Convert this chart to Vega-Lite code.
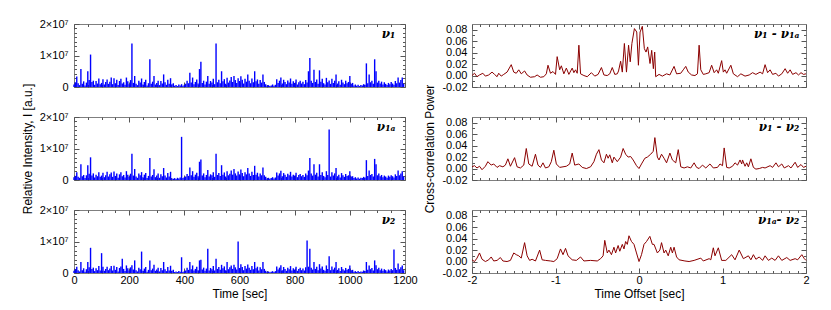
{
"$schema": "https://vega.github.io/schema/vega-lite/v6.json",
"background": "white",
"padding": {"left": 20, "top": 17, "right": 10, "bottom": 4},
"config": {
 "view": {"stroke": "#7f7f7f", "strokeWidth": 1},
 "axis": {"domain": false, "grid": false, "tickColor": "#555555", "tickWidth": 1, "labelFont": "Liberation Sans", "labelFontSize": 11, "labelColor": "#000000", "titleFont": "Liberation Sans", "titleFontSize": 12, "titleFontWeight": "normal", "titleColor": "#000000", "labelPadding": 6, "labelFlush": false, "labelOverlap": false},
 "axisLeft": {"labelPadding": 11},
 "rule": {"color": "#0000ff", "strokeWidth": 1.4},
 "text": {"font": "DejaVu Serif", "fontStyle": "italic", "fontWeight": "bold", "fontSize": 12, "color": "#000000", "align": "right", "baseline": "top"}
},
"datasets": {
"p1": [{"t":0,"v":0.8e6},{"t":5,"v":1.5e6},{"t":10,"v":3.3e6},{"t":15,"v":1.2e6},{"t":20,"v":0.6e6},{"t":25,"v":5.7e6},{"t":30,"v":1.0e6},{"t":35,"v":1.8e6},{"t":40,"v":0.5e6},{"t":45,"v":1.4e6},{"t":50,"v":5.0e6},{"t":55,"v":2.2e6},{"t":60,"v":10.3e6},{"t":65,"v":1.6e6},{"t":70,"v":2.0e6},{"t":75,"v":0.7e6},{"t":80,"v":1.9e6},{"t":85,"v":1.1e6},{"t":90,"v":2.7e6},{"t":95,"v":0.9e6},{"t":100,"v":1.3e6},{"t":105,"v":2.5e6},{"t":110,"v":0.8e6},{"t":115,"v":1.6e6},{"t":120,"v":2.4e6},{"t":125,"v":1.0e6},{"t":130,"v":1.7e6},{"t":135,"v":3.0e6},{"t":140,"v":0.9e6},{"t":145,"v":2.8e6},{"t":150,"v":1.2e6},{"t":155,"v":2.3e6},{"t":160,"v":0.6e6},{"t":165,"v":1.9e6},{"t":170,"v":2.6e6},{"t":175,"v":1.1e6},{"t":180,"v":1.5e6},{"t":185,"v":0.7e6},{"t":190,"v":3.0e6},{"t":195,"v":1.8e6},{"t":200,"v":0.9e6},{"t":205,"v":2.2e6},{"t":210,"v":13.8e6},{"t":215,"v":1.3e6},{"t":220,"v":3.5e6},{"t":225,"v":1.0e6},{"t":230,"v":0.6e6},{"t":235,"v":2.0e6},{"t":240,"v":1.4e6},{"t":245,"v":2.7e6},{"t":250,"v":0.8e6},{"t":255,"v":1.6e6},{"t":260,"v":2.3e6},{"t":265,"v":0.5e6},{"t":270,"v":1.2e6},{"t":275,"v":8.8e6},{"t":280,"v":1.0e6},{"t":285,"v":1.7e6},{"t":290,"v":3.5e6},{"t":295,"v":0.8e6},{"t":300,"v":1.3e6},{"t":305,"v":2.0e6},{"t":310,"v":0.6e6},{"t":315,"v":1.9e6},{"t":320,"v":1.1e6},{"t":325,"v":4.0e6},{"t":330,"v":1.5e6},{"t":335,"v":0.7e6},{"t":340,"v":2.3e6},{"t":345,"v":1.0e6},{"t":350,"v":2.8e6},{"t":355,"v":0.9e6},{"t":360,"v":1.2e6},{"t":365,"v":0.4e6},{"t":370,"v":0.6e6},{"t":375,"v":0.3e6},{"t":380,"v":0.8e6},{"t":385,"v":0.5e6},{"t":390,"v":0.9e6},{"t":395,"v":0.4e6},{"t":400,"v":0.7e6},{"t":405,"v":1.0e6},{"t":410,"v":2.0e6},{"t":415,"v":1.2e6},{"t":420,"v":4.5e6},{"t":425,"v":1.4e6},{"t":430,"v":3.0e6},{"t":435,"v":0.9e6},{"t":440,"v":1.6e6},{"t":445,"v":2.4e6},{"t":450,"v":1.1e6},{"t":455,"v":5.7e6},{"t":460,"v":8.0e6},{"t":465,"v":1.3e6},{"t":470,"v":2.0e6},{"t":475,"v":0.8e6},{"t":480,"v":1.7e6},{"t":485,"v":3.5e6},{"t":490,"v":1.0e6},{"t":495,"v":1.9e6},{"t":500,"v":1.4e6},{"t":505,"v":2.6e6},{"t":510,"v":0.9e6},{"t":515,"v":13.8e6},{"t":520,"v":1.5e6},{"t":525,"v":2.3e6},{"t":530,"v":1.2e6},{"t":535,"v":5.0e6},{"t":540,"v":1.8e6},{"t":545,"v":2.5e6},{"t":550,"v":1.0e6},{"t":555,"v":2.9e6},{"t":560,"v":1.4e6},{"t":565,"v":2.1e6},{"t":570,"v":3.2e6},{"t":575,"v":1.6e6},{"t":580,"v":3.5e6},{"t":585,"v":2.2e6},{"t":590,"v":1.3e6},{"t":595,"v":2.8e6},{"t":600,"v":1.9e6},{"t":605,"v":3.4e6},{"t":610,"v":2.3e6},{"t":615,"v":1.1e6},{"t":620,"v":2.6e6},{"t":625,"v":1.7e6},{"t":630,"v":4.0e6},{"t":635,"v":2.0e6},{"t":640,"v":1.2e6},{"t":645,"v":2.7e6},{"t":650,"v":1.5e6},{"t":655,"v":5.0e6},{"t":660,"v":1.8e6},{"t":665,"v":2.4e6},{"t":670,"v":1.0e6},{"t":675,"v":2.2e6},{"t":680,"v":1.4e6},{"t":685,"v":4.0e6},{"t":690,"v":1.6e6},{"t":695,"v":0.9e6},{"t":700,"v":0.4e6},{"t":705,"v":0.6e6},{"t":710,"v":0.3e6},{"t":715,"v":0.5e6},{"t":720,"v":0.8e6},{"t":725,"v":0.4e6},{"t":730,"v":0.7e6},{"t":735,"v":2.5e6},{"t":740,"v":1.3e6},{"t":745,"v":2.0e6},{"t":750,"v":3.0e6},{"t":755,"v":1.1e6},{"t":760,"v":2.3e6},{"t":765,"v":1.6e6},{"t":770,"v":0.9e6},{"t":775,"v":2.1e6},{"t":780,"v":1.4e6},{"t":785,"v":2.7e6},{"t":790,"v":1.0e6},{"t":795,"v":1.8e6},{"t":800,"v":1.3e6},{"t":805,"v":2.4e6},{"t":810,"v":0.8e6},{"t":815,"v":1.5e6},{"t":820,"v":2.0e6},{"t":825,"v":1.1e6},{"t":830,"v":1.7e6},{"t":835,"v":0.9e6},{"t":840,"v":2.2e6},{"t":845,"v":1.4e6},{"t":850,"v":5.0e6},{"t":855,"v":9.2e6},{"t":860,"v":2.0e6},{"t":865,"v":1.3e6},{"t":870,"v":5.5e6},{"t":875,"v":1.6e6},{"t":880,"v":2.4e6},{"t":885,"v":1.0e6},{"t":890,"v":5.3e6},{"t":895,"v":1.7e6},{"t":900,"v":2.6e6},{"t":905,"v":1.2e6},{"t":910,"v":0.8e6},{"t":915,"v":2.9e6},{"t":920,"v":1.5e6},{"t":925,"v":2.1e6},{"t":930,"v":1.0e6},{"t":935,"v":2.6e6},{"t":940,"v":1.3e6},{"t":945,"v":2.0e6},{"t":950,"v":4.0e6},{"t":955,"v":1.1e6},{"t":960,"v":1.8e6},{"t":965,"v":0.7e6},{"t":970,"v":2.3e6},{"t":975,"v":1.4e6},{"t":980,"v":0.9e6},{"t":985,"v":2.0e6},{"t":990,"v":1.2e6},{"t":995,"v":1.6e6},{"t":1000,"v":3.5e6},{"t":1005,"v":1.0e6},{"t":1010,"v":1.3e6},{"t":1015,"v":0.5e6},{"t":1020,"v":0.8e6},{"t":1025,"v":0.4e6},{"t":1030,"v":0.7e6},{"t":1035,"v":0.3e6},{"t":1040,"v":0.6e6},{"t":1045,"v":0.5e6},{"t":1050,"v":0.9e6},{"t":1055,"v":0.7e6},{"t":1060,"v":7.5e6},{"t":1065,"v":1.2e6},{"t":1070,"v":4.0e6},{"t":1075,"v":1.5e6},{"t":1080,"v":2.0e6},{"t":1085,"v":1.0e6},{"t":1090,"v":8.8e6},{"t":1095,"v":5.0e6},{"t":1100,"v":1.4e6},{"t":1105,"v":2.0e6},{"t":1110,"v":1.1e6},{"t":1115,"v":1.7e6},{"t":1120,"v":0.8e6},{"t":1125,"v":1.5e6},{"t":1130,"v":1.0e6},{"t":1135,"v":0.6e6},{"t":1140,"v":1.3e6},{"t":1145,"v":0.9e6},{"t":1150,"v":1.6e6},{"t":1155,"v":1.1e6},{"t":1160,"v":0.7e6},{"t":1165,"v":1.9e6},{"t":1170,"v":1.2e6},{"t":1175,"v":3.0e6},{"t":1180,"v":1.4e6},{"t":1185,"v":2.2e6},{"t":1190,"v":3.0e6},{"t":1195,"v":1.0e6}],
"p2": [{"t":0,"v":0.9e6},{"t":5,"v":1.3e6},{"t":10,"v":2.5e6},{"t":15,"v":1.0e6},{"t":20,"v":0.7e6},{"t":25,"v":5.0e6},{"t":30,"v":1.2e6},{"t":35,"v":1.6e6},{"t":40,"v":0.6e6},{"t":45,"v":1.5e6},{"t":50,"v":4.7e6},{"t":55,"v":2.0e6},{"t":60,"v":7.2e6},{"t":65,"v":1.4e6},{"t":70,"v":2.1e6},{"t":75,"v":0.8e6},{"t":80,"v":1.7e6},{"t":85,"v":1.2e6},{"t":90,"v":2.5e6},{"t":95,"v":1.0e6},{"t":100,"v":1.4e6},{"t":105,"v":2.3e6},{"t":110,"v":0.9e6},{"t":115,"v":1.5e6},{"t":120,"v":2.6e6},{"t":125,"v":1.1e6},{"t":130,"v":1.8e6},{"t":135,"v":2.4e6},{"t":140,"v":1.0e6},{"t":145,"v":2.7e6},{"t":150,"v":1.3e6},{"t":155,"v":2.1e6},{"t":160,"v":0.7e6},{"t":165,"v":1.8e6},{"t":170,"v":2.5e6},{"t":175,"v":1.2e6},{"t":180,"v":1.6e6},{"t":185,"v":0.8e6},{"t":190,"v":2.8e6},{"t":195,"v":1.7e6},{"t":200,"v":1.0e6},{"t":205,"v":2.0e6},{"t":210,"v":8.3e6},{"t":215,"v":1.4e6},{"t":220,"v":3.5e6},{"t":225,"v":1.1e6},{"t":230,"v":0.7e6},{"t":235,"v":2.1e6},{"t":240,"v":1.5e6},{"t":245,"v":2.5e6},{"t":250,"v":0.9e6},{"t":255,"v":1.7e6},{"t":260,"v":2.2e6},{"t":265,"v":0.6e6},{"t":270,"v":1.3e6},{"t":275,"v":7.0e6},{"t":280,"v":1.1e6},{"t":285,"v":1.6e6},{"t":290,"v":3.4e6},{"t":295,"v":0.9e6},{"t":300,"v":1.4e6},{"t":305,"v":2.1e6},{"t":310,"v":0.7e6},{"t":315,"v":1.8e6},{"t":320,"v":1.2e6},{"t":325,"v":3.8e6},{"t":330,"v":1.4e6},{"t":335,"v":0.8e6},{"t":340,"v":2.2e6},{"t":345,"v":1.1e6},{"t":350,"v":2.6e6},{"t":355,"v":0.5e6},{"t":360,"v":0.4e6},{"t":365,"v":0.6e6},{"t":370,"v":0.3e6},{"t":375,"v":0.7e6},{"t":380,"v":0.5e6},{"t":385,"v":0.8e6},{"t":390,"v":13.7e6},{"t":395,"v":0.6e6},{"t":400,"v":0.9e6},{"t":405,"v":1.1e6},{"t":410,"v":1.9e6},{"t":415,"v":1.3e6},{"t":420,"v":4.0e6},{"t":425,"v":1.5e6},{"t":430,"v":2.8e6},{"t":435,"v":1.0e6},{"t":440,"v":1.7e6},{"t":445,"v":2.3e6},{"t":450,"v":1.2e6},{"t":455,"v":5.8e6},{"t":460,"v":6.5e6},{"t":465,"v":1.4e6},{"t":470,"v":2.1e6},{"t":475,"v":0.9e6},{"t":480,"v":1.6e6},{"t":485,"v":3.2e6},{"t":490,"v":1.1e6},{"t":495,"v":1.8e6},{"t":500,"v":1.5e6},{"t":505,"v":2.5e6},{"t":510,"v":1.0e6},{"t":515,"v":8.3e6},{"t":520,"v":1.6e6},{"t":525,"v":2.2e6},{"t":530,"v":1.3e6},{"t":535,"v":4.7e6},{"t":540,"v":1.7e6},{"t":545,"v":2.4e6},{"t":550,"v":1.1e6},{"t":555,"v":2.8e6},{"t":560,"v":1.5e6},{"t":565,"v":2.0e6},{"t":570,"v":3.0e6},{"t":575,"v":1.7e6},{"t":580,"v":3.5e6},{"t":585,"v":2.1e6},{"t":590,"v":1.4e6},{"t":595,"v":2.7e6},{"t":600,"v":1.8e6},{"t":605,"v":3.3e6},{"t":610,"v":2.2e6},{"t":615,"v":1.2e6},{"t":620,"v":2.5e6},{"t":625,"v":1.8e6},{"t":630,"v":3.8e6},{"t":635,"v":2.1e6},{"t":640,"v":1.3e6},{"t":645,"v":2.6e6},{"t":650,"v":1.6e6},{"t":655,"v":4.5e6},{"t":660,"v":1.7e6},{"t":665,"v":2.3e6},{"t":670,"v":1.1e6},{"t":675,"v":2.1e6},{"t":680,"v":1.5e6},{"t":685,"v":4.0e6},{"t":690,"v":1.5e6},{"t":695,"v":1.0e6},{"t":700,"v":0.5e6},{"t":705,"v":0.7e6},{"t":710,"v":0.4e6},{"t":715,"v":0.6e6},{"t":720,"v":0.9e6},{"t":725,"v":0.5e6},{"t":730,"v":0.8e6},{"t":735,"v":2.4e6},{"t":740,"v":1.4e6},{"t":745,"v":2.1e6},{"t":750,"v":2.9e6},{"t":755,"v":1.2e6},{"t":760,"v":2.2e6},{"t":765,"v":1.7e6},{"t":770,"v":1.0e6},{"t":775,"v":2.0e6},{"t":780,"v":1.5e6},{"t":785,"v":2.6e6},{"t":790,"v":1.1e6},{"t":795,"v":1.7e6},{"t":800,"v":1.4e6},{"t":805,"v":2.3e6},{"t":810,"v":0.9e6},{"t":815,"v":1.6e6},{"t":820,"v":1.9e6},{"t":825,"v":1.2e6},{"t":830,"v":1.6e6},{"t":835,"v":1.0e6},{"t":840,"v":2.1e6},{"t":845,"v":1.5e6},{"t":850,"v":3.0e6},{"t":855,"v":7.0e6},{"t":860,"v":2.1e6},{"t":865,"v":1.4e6},{"t":870,"v":5.0e6},{"t":875,"v":1.7e6},{"t":880,"v":2.3e6},{"t":885,"v":1.1e6},{"t":890,"v":5.0e6},{"t":895,"v":1.6e6},{"t":900,"v":2.5e6},{"t":905,"v":1.3e6},{"t":910,"v":0.9e6},{"t":915,"v":2.8e6},{"t":920,"v":1.6e6},{"t":925,"v":16.0e6},{"t":930,"v":1.1e6},{"t":935,"v":2.5e6},{"t":940,"v":1.4e6},{"t":945,"v":2.1e6},{"t":950,"v":3.8e6},{"t":955,"v":1.2e6},{"t":960,"v":1.7e6},{"t":965,"v":0.8e6},{"t":970,"v":2.2e6},{"t":975,"v":1.5e6},{"t":980,"v":1.0e6},{"t":985,"v":1.9e6},{"t":990,"v":1.3e6},{"t":995,"v":1.5e6},{"t":1000,"v":2.8e6},{"t":1005,"v":1.1e6},{"t":1010,"v":1.2e6},{"t":1015,"v":0.6e6},{"t":1020,"v":0.9e6},{"t":1025,"v":0.5e6},{"t":1030,"v":0.8e6},{"t":1035,"v":0.4e6},{"t":1040,"v":0.7e6},{"t":1045,"v":0.6e6},{"t":1050,"v":1.0e6},{"t":1055,"v":0.8e6},{"t":1060,"v":6.3e6},{"t":1065,"v":1.3e6},{"t":1070,"v":3.0e6},{"t":1075,"v":1.6e6},{"t":1080,"v":1.9e6},{"t":1085,"v":1.1e6},{"t":1090,"v":6.7e6},{"t":1095,"v":5.0e6},{"t":1100,"v":1.5e6},{"t":1105,"v":2.1e6},{"t":1110,"v":1.2e6},{"t":1115,"v":1.6e6},{"t":1120,"v":0.9e6},{"t":1125,"v":1.4e6},{"t":1130,"v":1.1e6},{"t":1135,"v":0.7e6},{"t":1140,"v":1.4e6},{"t":1145,"v":1.0e6},{"t":1150,"v":1.5e6},{"t":1155,"v":1.2e6},{"t":1160,"v":0.8e6},{"t":1165,"v":1.8e6},{"t":1170,"v":1.3e6},{"t":1175,"v":3.0e6},{"t":1180,"v":1.5e6},{"t":1185,"v":2.1e6},{"t":1190,"v":2.8e6},{"t":1195,"v":1.1e6}],
"p3": [{"t":0,"v":0.7e6},{"t":5,"v":1.2e6},{"t":10,"v":2.0e6},{"t":15,"v":0.9e6},{"t":20,"v":0.5e6},{"t":25,"v":3.5e6},{"t":30,"v":0.9e6},{"t":35,"v":1.5e6},{"t":40,"v":0.4e6},{"t":45,"v":1.2e6},{"t":50,"v":3.5e6},{"t":55,"v":1.8e6},{"t":60,"v":8.0e6},{"t":65,"v":1.3e6},{"t":70,"v":1.7e6},{"t":75,"v":0.6e6},{"t":80,"v":1.5e6},{"t":85,"v":0.9e6},{"t":90,"v":2.2e6},{"t":95,"v":0.8e6},{"t":100,"v":6.3e6},{"t":105,"v":2.0e6},{"t":110,"v":0.7e6},{"t":115,"v":1.3e6},{"t":120,"v":2.0e6},{"t":125,"v":0.9e6},{"t":130,"v":1.4e6},{"t":135,"v":2.2e6},{"t":140,"v":0.8e6},{"t":145,"v":2.3e6},{"t":150,"v":1.0e6},{"t":155,"v":1.9e6},{"t":160,"v":0.5e6},{"t":165,"v":1.6e6},{"t":170,"v":2.1e6},{"t":175,"v":4.5e6},{"t":180,"v":1.3e6},{"t":185,"v":0.6e6},{"t":190,"v":2.4e6},{"t":195,"v":1.5e6},{"t":200,"v":0.8e6},{"t":205,"v":1.8e6},{"t":210,"v":2.5e6},{"t":215,"v":1.1e6},{"t":220,"v":4.0e6},{"t":225,"v":0.9e6},{"t":230,"v":0.5e6},{"t":235,"v":1.7e6},{"t":240,"v":1.2e6},{"t":245,"v":6.8e6},{"t":250,"v":0.7e6},{"t":255,"v":1.4e6},{"t":260,"v":1.9e6},{"t":265,"v":0.4e6},{"t":270,"v":1.0e6},{"t":275,"v":4.0e6},{"t":280,"v":0.9e6},{"t":285,"v":1.4e6},{"t":290,"v":2.6e6},{"t":295,"v":0.7e6},{"t":300,"v":1.1e6},{"t":305,"v":1.7e6},{"t":310,"v":0.5e6},{"t":315,"v":1.6e6},{"t":320,"v":0.9e6},{"t":325,"v":3.5e6},{"t":330,"v":1.2e6},{"t":335,"v":0.6e6},{"t":340,"v":1.9e6},{"t":345,"v":0.8e6},{"t":350,"v":2.3e6},{"t":355,"v":0.7e6},{"t":360,"v":1.0e6},{"t":365,"v":0.3e6},{"t":370,"v":0.5e6},{"t":375,"v":0.3e6},{"t":380,"v":0.6e6},{"t":385,"v":0.4e6},{"t":390,"v":5.0e6},{"t":395,"v":0.3e6},{"t":400,"v":0.6e6},{"t":405,"v":0.8e6},{"t":410,"v":1.7e6},{"t":415,"v":1.0e6},{"t":420,"v":3.5e6},{"t":425,"v":1.2e6},{"t":430,"v":2.4e6},{"t":435,"v":0.8e6},{"t":440,"v":1.3e6},{"t":445,"v":2.0e6},{"t":450,"v":0.9e6},{"t":455,"v":4.0e6},{"t":460,"v":4.2e6},{"t":465,"v":1.1e6},{"t":470,"v":1.7e6},{"t":475,"v":0.7e6},{"t":480,"v":1.4e6},{"t":485,"v":7.7e6},{"t":490,"v":0.8e6},{"t":495,"v":1.6e6},{"t":500,"v":1.2e6},{"t":505,"v":2.2e6},{"t":510,"v":0.8e6},{"t":515,"v":4.5e6},{"t":520,"v":1.3e6},{"t":525,"v":1.9e6},{"t":530,"v":1.0e6},{"t":535,"v":2.6e6},{"t":540,"v":1.5e6},{"t":545,"v":2.1e6},{"t":550,"v":0.9e6},{"t":555,"v":3.5e6},{"t":560,"v":1.2e6},{"t":565,"v":1.8e6},{"t":570,"v":2.4e6},{"t":575,"v":1.3e6},{"t":580,"v":2.6e6},{"t":585,"v":1.8e6},{"t":590,"v":1.1e6},{"t":595,"v":10.0e6},{"t":600,"v":1.6e6},{"t":605,"v":2.8e6},{"t":610,"v":1.9e6},{"t":615,"v":0.9e6},{"t":620,"v":2.2e6},{"t":625,"v":1.4e6},{"t":630,"v":2.7e6},{"t":635,"v":1.7e6},{"t":640,"v":1.0e6},{"t":645,"v":2.2e6},{"t":650,"v":1.2e6},{"t":655,"v":3.5e6},{"t":660,"v":1.5e6},{"t":665,"v":2.0e6},{"t":670,"v":0.8e6},{"t":675,"v":1.8e6},{"t":680,"v":1.2e6},{"t":685,"v":3.5e6},{"t":690,"v":1.3e6},{"t":695,"v":0.7e6},{"t":700,"v":0.3e6},{"t":705,"v":0.5e6},{"t":710,"v":0.2e6},{"t":715,"v":0.4e6},{"t":720,"v":0.6e6},{"t":725,"v":0.3e6},{"t":730,"v":0.6e6},{"t":735,"v":2.1e6},{"t":740,"v":1.1e6},{"t":745,"v":1.7e6},{"t":750,"v":2.5e6},{"t":755,"v":0.9e6},{"t":760,"v":1.9e6},{"t":765,"v":1.3e6},{"t":770,"v":0.7e6},{"t":775,"v":1.7e6},{"t":780,"v":1.2e6},{"t":785,"v":2.2e6},{"t":790,"v":0.8e6},{"t":795,"v":1.5e6},{"t":800,"v":1.1e6},{"t":805,"v":2.0e6},{"t":810,"v":0.7e6},{"t":815,"v":1.3e6},{"t":820,"v":1.7e6},{"t":825,"v":0.9e6},{"t":830,"v":1.4e6},{"t":835,"v":0.8e6},{"t":840,"v":1.8e6},{"t":845,"v":10.3e6},{"t":850,"v":2.0e6},{"t":855,"v":7.7e6},{"t":860,"v":1.7e6},{"t":865,"v":1.1e6},{"t":870,"v":3.5e6},{"t":875,"v":1.3e6},{"t":880,"v":2.0e6},{"t":885,"v":0.9e6},{"t":890,"v":2.8e6},{"t":895,"v":1.4e6},{"t":900,"v":2.1e6},{"t":905,"v":1.0e6},{"t":910,"v":0.7e6},{"t":915,"v":2.4e6},{"t":920,"v":1.3e6},{"t":925,"v":5.3e6},{"t":930,"v":0.9e6},{"t":935,"v":2.1e6},{"t":940,"v":1.1e6},{"t":945,"v":1.7e6},{"t":950,"v":3.5e6},{"t":955,"v":1.0e6},{"t":960,"v":1.5e6},{"t":965,"v":0.6e6},{"t":970,"v":1.9e6},{"t":975,"v":1.2e6},{"t":980,"v":0.8e6},{"t":985,"v":1.6e6},{"t":990,"v":1.0e6},{"t":995,"v":1.3e6},{"t":1000,"v":2.4e6},{"t":1005,"v":0.9e6},{"t":1010,"v":1.0e6},{"t":1015,"v":0.4e6},{"t":1020,"v":0.6e6},{"t":1025,"v":0.3e6},{"t":1030,"v":0.6e6},{"t":1035,"v":0.3e6},{"t":1040,"v":0.5e6},{"t":1045,"v":0.4e6},{"t":1050,"v":0.8e6},{"t":1055,"v":0.6e6},{"t":1060,"v":3.5e6},{"t":1065,"v":1.0e6},{"t":1070,"v":2.4e6},{"t":1075,"v":1.2e6},{"t":1080,"v":1.6e6},{"t":1085,"v":0.8e6},{"t":1090,"v":4.0e6},{"t":1095,"v":2.5e6},{"t":1100,"v":1.2e6},{"t":1105,"v":1.7e6},{"t":1110,"v":0.9e6},{"t":1115,"v":1.4e6},{"t":1120,"v":0.7e6},{"t":1125,"v":1.2e6},{"t":1130,"v":0.9e6},{"t":1135,"v":0.5e6},{"t":1140,"v":1.1e6},{"t":1145,"v":0.8e6},{"t":1150,"v":1.3e6},{"t":1155,"v":0.9e6},{"t":1160,"v":7.5e6},{"t":1165,"v":1.6e6},{"t":1170,"v":1.0e6},{"t":1175,"v":3.0e6},{"t":1180,"v":1.2e6},{"t":1185,"v":1.8e6},{"t":1190,"v":2.4e6},{"t":1195,"v":0.9e6}],
"r1": [{"o":-2.00,"c":0.000},{"o":-1.97,"c":0.004},{"o":-1.94,"c":-0.002},{"o":-1.91,"c":0.001},{"o":-1.87,"c":0.004},{"o":-1.84,"c":-0.001},{"o":-1.80,"c":0.001},{"o":-1.76,"c":0.006},{"o":-1.73,"c":0.002},{"o":-1.70,"c":-0.002},{"o":-1.68,"c":0.004},{"o":-1.65,"c":-0.001},{"o":-1.62,"c":0.002},{"o":-1.58,"c":0.006},{"o":-1.53,"c":0.019},{"o":-1.50,"c":0.006},{"o":-1.47,"c":0.004},{"o":-1.44,"c":0.010},{"o":-1.41,"c":0.003},{"o":-1.37,"c":0.008},{"o":-1.34,"c":0.001},{"o":-1.30,"c":-0.003},{"o":-1.25,"c":-0.002},{"o":-1.22,"c":0.001},{"o":-1.18,"c":-0.003},{"o":-1.14,"c":-0.002},{"o":-1.11,"c":0.003},{"o":-1.09,"c":0.018},{"o":-1.06,"c":0.004},{"o":-1.03,"c":0.007},{"o":-1.00,"c":0.002},{"o":-0.98,"c":0.033},{"o":-0.95,"c":0.010},{"o":-0.93,"c":0.017},{"o":-0.90,"c":0.003},{"o":-0.87,"c":0.013},{"o":-0.84,"c":0.002},{"o":-0.80,"c":0.013},{"o":-0.78,"c":0.005},{"o":-0.76,"c":0.010},{"o":-0.74,"c":0.004},{"o":-0.72,"c":0.053},{"o":-0.70,"c":0.003},{"o":-0.66,"c":0.000},{"o":-0.62,"c":-0.002},{"o":-0.57,"c":0.005},{"o":-0.53,"c":-0.001},{"o":-0.49,"c":0.002},{"o":-0.45,"c":0.014},{"o":-0.42,"c":0.001},{"o":-0.38,"c":0.000},{"o":-0.35,"c":0.003},{"o":-0.32,"c":0.014},{"o":-0.29,"c":0.002},{"o":-0.26,"c":0.003},{"o":-0.245,"c":0.008},{"o":-0.22,"c":0.025},{"o":-0.20,"c":0.006},{"o":-0.175,"c":0.056},{"o":-0.15,"c":0.006},{"o":-0.125,"c":0.053},{"o":-0.105,"c":0.024},{"o":-0.085,"c":0.056},{"o":-0.055,"c":0.082},{"o":-0.027,"c":0.076},{"o":-0.007,"c":0.018},{"o":0.013,"c":0.076},{"o":0.04,"c":0.086},{"o":0.064,"c":0.047},{"o":0.084,"c":0.041},{"o":0.104,"c":0.050},{"o":0.132,"c":0.021},{"o":0.152,"c":0.044},{"o":0.172,"c":0.012},{"o":0.188,"c":0.041},{"o":0.20,"c":-0.002},{"o":0.24,"c":0.002},{"o":0.28,"c":-0.001},{"o":0.33,"c":0.003},{"o":0.37,"c":0.001},{"o":0.42,"c":0.016},{"o":0.45,"c":0.003},{"o":0.50,"c":0.004},{"o":0.53,"c":0.010},{"o":0.56,"c":0.016},{"o":0.59,"c":0.006},{"o":0.63,"c":0.001},{"o":0.67,"c":0.000},{"o":0.70,"c":0.003},{"o":0.72,"c":0.053},{"o":0.74,"c":0.010},{"o":0.77,"c":0.002},{"o":0.80,"c":0.003},{"o":0.84,"c":0.005},{"o":0.87,"c":0.018},{"o":0.90,"c":0.005},{"o":0.93,"c":0.010},{"o":0.95,"c":0.004},{"o":0.99,"c":0.026},{"o":1.01,"c":0.006},{"o":1.03,"c":0.010},{"o":1.05,"c":0.004},{"o":1.10,"c":0.018},{"o":1.13,"c":0.003},{"o":1.18,"c":-0.002},{"o":1.22,"c":0.003},{"o":1.27,"c":-0.001},{"o":1.32,"c":0.001},{"o":1.36,"c":0.005},{"o":1.40,"c":0.002},{"o":1.45,"c":0.006},{"o":1.48,"c":0.003},{"o":1.51,"c":0.019},{"o":1.54,"c":0.005},{"o":1.57,"c":0.010},{"o":1.60,"c":0.002},{"o":1.64,"c":0.004},{"o":1.67,"c":-0.001},{"o":1.71,"c":0.003},{"o":1.75,"c":0.012},{"o":1.78,"c":0.004},{"o":1.81,"c":0.010},{"o":1.84,"c":0.002},{"o":1.88,"c":0.005},{"o":1.91,"c":0.001},{"o":1.94,"c":0.005},{"o":1.97,"c":0.002},{"o":2.00,"c":0.003}],
"r2": [{"o":-2.00,"c":0.003},{"o":-1.97,"c":0.005},{"o":-1.94,"c":0.001},{"o":-1.91,"c":0.004},{"o":-1.88,"c":-0.002},{"o":-1.84,"c":0.004},{"o":-1.81,"c":0.012},{"o":-1.77,"c":0.006},{"o":-1.74,"c":0.008},{"o":-1.70,"c":0.002},{"o":-1.67,"c":0.005},{"o":-1.63,"c":0.003},{"o":-1.60,"c":0.006},{"o":-1.57,"c":0.017},{"o":-1.54,"c":0.004},{"o":-1.49,"c":0.019},{"o":-1.46,"c":0.003},{"o":-1.42,"c":0.001},{"o":-1.38,"c":0.006},{"o":-1.35,"c":0.035},{"o":-1.32,"c":0.008},{"o":-1.28,"c":0.004},{"o":-1.24,"c":0.025},{"o":-1.21,"c":0.006},{"o":-1.18,"c":0.002},{"o":-1.15,"c":0.010},{"o":-1.12,"c":0.001},{"o":-1.08,"c":0.003},{"o":-1.05,"c":0.012},{"o":-1.02,"c":0.032},{"o":-0.99,"c":0.008},{"o":-0.95,"c":0.002},{"o":-0.91,"c":0.003},{"o":-0.87,"c":0.004},{"o":-0.83,"c":0.008},{"o":-0.80,"c":0.027},{"o":-0.77,"c":0.006},{"o":-0.72,"c":0.008},{"o":-0.68,"c":0.002},{"o":-0.63,"c":0.000},{"o":-0.58,"c":0.003},{"o":-0.54,"c":0.012},{"o":-0.51,"c":0.025},{"o":-0.48,"c":0.033},{"o":-0.45,"c":0.015},{"o":-0.42,"c":0.010},{"o":-0.39,"c":0.025},{"o":-0.37,"c":0.018},{"o":-0.35,"c":0.024},{"o":-0.32,"c":0.010},{"o":-0.30,"c":0.020},{"o":-0.26,"c":0.012},{"o":-0.22,"c":0.020},{"o":-0.19,"c":0.035},{"o":-0.16,"c":0.025},{"o":-0.13,"c":0.020},{"o":-0.10,"c":0.021},{"o":-0.07,"c":0.015},{"o":-0.03,"c":0.005},{"o":0.00,"c":0.000},{"o":0.03,"c":0.008},{"o":0.07,"c":0.018},{"o":0.10,"c":0.020},{"o":0.14,"c":0.025},{"o":0.17,"c":0.030},{"o":0.19,"c":0.054},{"o":0.22,"c":0.020},{"o":0.24,"c":0.015},{"o":0.27,"c":0.025},{"o":0.30,"c":0.018},{"o":0.33,"c":0.010},{"o":0.37,"c":0.027},{"o":0.40,"c":0.015},{"o":0.44,"c":0.010},{"o":0.47,"c":0.033},{"o":0.50,"c":0.003},{"o":0.54,"c":0.001},{"o":0.58,"c":0.003},{"o":0.62,"c":0.001},{"o":0.66,"c":0.010},{"o":0.69,"c":0.002},{"o":0.72,"c":0.000},{"o":0.76,"c":0.006},{"o":0.80,"c":0.001},{"o":0.85,"c":0.008},{"o":0.89,"c":0.001},{"o":0.94,"c":0.002},{"o":0.97,"c":0.008},{"o":1.00,"c":0.005},{"o":1.02,"c":0.036},{"o":1.05,"c":0.002},{"o":1.08,"c":0.001},{"o":1.12,"c":0.004},{"o":1.15,"c":0.010},{"o":1.18,"c":0.006},{"o":1.21,"c":0.015},{"o":1.23,"c":0.008},{"o":1.24,"c":0.015},{"o":1.27,"c":0.004},{"o":1.29,"c":0.010},{"o":1.31,"c":0.003},{"o":1.34,"c":0.017},{"o":1.37,"c":0.002},{"o":1.40,"c":-0.001},{"o":1.44,"c":0.000},{"o":1.48,"c":0.002},{"o":1.51,"c":0.001},{"o":1.57,"c":0.005},{"o":1.60,"c":0.002},{"o":1.64,"c":0.010},{"o":1.67,"c":0.003},{"o":1.71,"c":0.008},{"o":1.74,"c":0.001},{"o":1.79,"c":0.005},{"o":1.82,"c":0.001},{"o":1.87,"c":0.011},{"o":1.90,"c":0.002},{"o":1.94,"c":0.007},{"o":1.97,"c":0.002},{"o":2.00,"c":0.004}],
"r3": [{"o":-2.00,"c":0.003},{"o":-1.97,"c":0.000},{"o":-1.94,"c":0.006},{"o":-1.91,"c":0.015},{"o":-1.88,"c":0.004},{"o":-1.84,"c":0.000},{"o":-1.80,"c":0.003},{"o":-1.77,"c":0.008},{"o":-1.74,"c":0.001},{"o":-1.70,"c":0.002},{"o":-1.66,"c":0.007},{"o":-1.63,"c":0.001},{"o":-1.58,"c":0.000},{"o":-1.54,"c":0.002},{"o":-1.50,"c":0.015},{"o":-1.47,"c":0.012},{"o":-1.44,"c":0.010},{"o":-1.41,"c":0.006},{"o":-1.37,"c":0.033},{"o":-1.34,"c":0.010},{"o":-1.31,"c":0.002},{"o":-1.28,"c":0.004},{"o":-1.24,"c":0.001},{"o":-1.19,"c":0.020},{"o":-1.16,"c":0.003},{"o":-1.12,"c":0.002},{"o":-1.06,"c":0.001},{"o":-1.02,"c":0.000},{"o":-0.98,"c":0.005},{"o":-0.94,"c":0.022},{"o":-0.91,"c":0.012},{"o":-0.88,"c":0.023},{"o":-0.85,"c":0.010},{"o":-0.80,"c":0.003},{"o":-0.75,"c":0.002},{"o":-0.70,"c":0.008},{"o":-0.66,"c":0.001},{"o":-0.58,"c":0.002},{"o":-0.50,"c":0.001},{"o":-0.46,"c":0.005},{"o":-0.43,"c":0.010},{"o":-0.41,"c":0.037},{"o":-0.38,"c":0.015},{"o":-0.36,"c":0.020},{"o":-0.33,"c":0.012},{"o":-0.30,"c":0.025},{"o":-0.28,"c":0.015},{"o":-0.25,"c":0.028},{"o":-0.23,"c":0.018},{"o":-0.20,"c":0.030},{"o":-0.18,"c":0.022},{"o":-0.16,"c":0.035},{"o":-0.14,"c":0.030},{"o":-0.12,"c":0.045},{"o":-0.09,"c":0.035},{"o":-0.06,"c":0.030},{"o":-0.03,"c":0.015},{"o":0.00,"c":0.000},{"o":0.03,"c":0.012},{"o":0.06,"c":0.030},{"o":0.09,"c":0.035},{"o":0.13,"c":0.044},{"o":0.16,"c":0.030},{"o":0.18,"c":0.030},{"o":0.22,"c":0.015},{"o":0.25,"c":0.020},{"o":0.27,"c":0.033},{"o":0.30,"c":0.015},{"o":0.32,"c":0.020},{"o":0.35,"c":0.010},{"o":0.38,"c":0.025},{"o":0.40,"c":0.015},{"o":0.42,"c":0.025},{"o":0.45,"c":0.008},{"o":0.48,"c":0.003},{"o":0.55,"c":0.001},{"o":0.60,"c":0.000},{"o":0.66,"c":0.002},{"o":0.74,"c":0.006},{"o":0.77,"c":0.001},{"o":0.84,"c":0.005},{"o":0.86,"c":0.003},{"o":0.89,"c":0.024},{"o":0.91,"c":0.010},{"o":0.95,"c":0.024},{"o":0.99,"c":0.002},{"o":1.04,"c":0.002},{"o":1.11,"c":0.012},{"o":1.15,"c":0.003},{"o":1.20,"c":0.020},{"o":1.25,"c":0.005},{"o":1.31,"c":0.010},{"o":1.34,"c":0.003},{"o":1.37,"c":0.012},{"o":1.40,"c":0.004},{"o":1.44,"c":0.008},{"o":1.48,"c":0.002},{"o":1.51,"c":0.010},{"o":1.55,"c":0.002},{"o":1.59,"c":0.006},{"o":1.63,"c":0.002},{"o":1.67,"c":0.010},{"o":1.71,"c":0.002},{"o":1.77,"c":0.007},{"o":1.81,"c":0.002},{"o":1.87,"c":0.005},{"o":1.90,"c":0.003},{"o":1.95,"c":0.012},{"o":1.98,"c":0.005},{"o":2.00,"c":0.002}]
},
"spacing": 5,
"hconcat": [
{"spacing": 30, "bounds": "flush", "vconcat": [
 {"width": 331, "height": 63, "data": {"name": "p1"},
  "layer": [
   {"mark": {"type": "rule"},
    "encoding": {
     "x": {"field": "t", "type": "quantitative", "scale": {"domain": [0, 1200], "nice": false}, "axis": {"orient": "bottom", "values": [0,50,100,150,200,250,300,350,400,450,500,550,600,650,700,750,800,850,900,950,1000,1050,1100,1150,1200], "tickSize": {"condition": {"test": "datum.value % 200 === 0", "value": -5}, "value": -2.5}, "labels": false, "title": null}},
     "y": {"field": "v", "type": "quantitative", "scale": {"domain": [0, 20000000], "nice": false}, "axis": {"orient": "left", "values": [0,1428571,2857143,4285714,5714286,7142857,8571429,10000000,11428571,12857143,14285714,15714286,17142857,18571429,20000000], "tickSize": {"condition": {"test": "datum.value % 10000000 === 0", "value": -5}, "value": -2.5}, "labelExpr": "datum.value === 0 ? '0' : datum.value === 10000000 ? '1×10⁷' : datum.value === 20000000 ? '2×10⁷' : ''", "title": null}},
     "y2": {"datum": 0}}},
   {"mark": {"type": "rule", "opacity": 0},
    "encoding": {
     "x": {"field": "t", "type": "quantitative", "scale": {"domain": [0, 1200], "nice": false}, "axis": {"orient": "top", "values": [0,50,100,150,200,250,300,350,400,450,500,550,600,650,700,750,800,850,900,950,1000,1050,1100,1150,1200], "tickSize": {"condition": {"test": "datum.value % 200 === 0", "value": -5}, "value": -2.5}, "labels": false, "title": null}},
     "y": {"field": "v", "type": "quantitative", "scale": {"domain": [0, 20000000], "nice": false}, "axis": {"orient": "right", "values": [0,1428571,2857143,4285714,5714286,7142857,8571429,10000000,11428571,12857143,14285714,15714286,17142857,18571429,20000000], "tickSize": {"condition": {"test": "datum.value % 10000000 === 0", "value": -5}, "value": -2.5}, "labels": false, "title": null}},
     "y2": {"datum": 0}}},
   {"data": {"values": [{"lab": "ν₁"}]}, "mark": {"type": "text"},
    "encoding": {"text": {"field": "lab"}, "x": {"datum": 1165, "type": "quantitative", "axis": null}, "y": {"datum": 18300000, "type": "quantitative", "axis": null}}}
  ],
  "resolve": {"axis": {"x": "independent", "y": "independent"}}},
 {"width": 331, "height": 63, "data": {"name": "p2"},
  "layer": [
   {"mark": {"type": "rule"},
    "encoding": {
     "x": {"field": "t", "type": "quantitative", "scale": {"domain": [0, 1200], "nice": false}, "axis": {"orient": "bottom", "values": [0,50,100,150,200,250,300,350,400,450,500,550,600,650,700,750,800,850,900,950,1000,1050,1100,1150,1200], "tickSize": {"condition": {"test": "datum.value % 200 === 0", "value": -5}, "value": -2.5}, "labels": false, "title": null}},
     "y": {"field": "v", "type": "quantitative", "scale": {"domain": [0, 20000000], "nice": false}, "axis": {"orient": "left", "values": [0,1428571,2857143,4285714,5714286,7142857,8571429,10000000,11428571,12857143,14285714,15714286,17142857,18571429,20000000], "tickSize": {"condition": {"test": "datum.value % 10000000 === 0", "value": -5}, "value": -2.5}, "labelExpr": "datum.value === 0 ? '0' : datum.value === 10000000 ? '1×10⁷' : datum.value === 20000000 ? '2×10⁷' : ''", "title": "Relative Intensity, I [a.u.]", "titlePadding": 5}},
     "y2": {"datum": 0}}},
   {"mark": {"type": "rule", "opacity": 0},
    "encoding": {
     "x": {"field": "t", "type": "quantitative", "scale": {"domain": [0, 1200], "nice": false}, "axis": {"orient": "top", "values": [0,50,100,150,200,250,300,350,400,450,500,550,600,650,700,750,800,850,900,950,1000,1050,1100,1150,1200], "tickSize": {"condition": {"test": "datum.value % 200 === 0", "value": -5}, "value": -2.5}, "labels": false, "title": null}},
     "y": {"field": "v", "type": "quantitative", "scale": {"domain": [0, 20000000], "nice": false}, "axis": {"orient": "right", "values": [0,1428571,2857143,4285714,5714286,7142857,8571429,10000000,11428571,12857143,14285714,15714286,17142857,18571429,20000000], "tickSize": {"condition": {"test": "datum.value % 10000000 === 0", "value": -5}, "value": -2.5}, "labels": false, "title": null}},
     "y2": {"datum": 0}}},
   {"data": {"values": [{"lab": "ν₁ₐ"}]}, "mark": {"type": "text"},
    "encoding": {"text": {"field": "lab"}, "x": {"datum": 1165, "type": "quantitative", "axis": null}, "y": {"datum": 18300000, "type": "quantitative", "axis": null}}}
  ],
  "resolve": {"axis": {"x": "independent", "y": "independent"}}},
 {"width": 331, "height": 63, "data": {"name": "p3"},
  "layer": [
   {"mark": {"type": "rule"},
    "encoding": {
     "x": {"field": "t", "type": "quantitative", "scale": {"domain": [0, 1200], "nice": false}, "axis": {"orient": "bottom", "values": [0,50,100,150,200,250,300,350,400,450,500,550,600,650,700,750,800,850,900,950,1000,1050,1100,1150,1200], "tickSize": {"condition": {"test": "datum.value % 200 === 0", "value": -5}, "value": -2.5}, "labelExpr": "datum.value % 200 === 0 ? format(datum.value, 'd') : ''", "title": "Time [sec]", "titlePadding": 1}},
     "y": {"field": "v", "type": "quantitative", "scale": {"domain": [0, 20000000], "nice": false}, "axis": {"orient": "left", "values": [0,1428571,2857143,4285714,5714286,7142857,8571429,10000000,11428571,12857143,14285714,15714286,17142857,18571429,20000000], "tickSize": {"condition": {"test": "datum.value % 10000000 === 0", "value": -5}, "value": -2.5}, "labelExpr": "datum.value === 0 ? '0' : datum.value === 10000000 ? '1×10⁷' : datum.value === 20000000 ? '2×10⁷' : ''", "title": null}},
     "y2": {"datum": 0}}},
   {"mark": {"type": "rule", "opacity": 0},
    "encoding": {
     "x": {"field": "t", "type": "quantitative", "scale": {"domain": [0, 1200], "nice": false}, "axis": {"orient": "top", "values": [0,50,100,150,200,250,300,350,400,450,500,550,600,650,700,750,800,850,900,950,1000,1050,1100,1150,1200], "tickSize": {"condition": {"test": "datum.value % 200 === 0", "value": -5}, "value": -2.5}, "labels": false, "title": null}},
     "y": {"field": "v", "type": "quantitative", "scale": {"domain": [0, 20000000], "nice": false}, "axis": {"orient": "right", "values": [0,1428571,2857143,4285714,5714286,7142857,8571429,10000000,11428571,12857143,14285714,15714286,17142857,18571429,20000000], "tickSize": {"condition": {"test": "datum.value % 10000000 === 0", "value": -5}, "value": -2.5}, "labels": false, "title": null}},
     "y2": {"datum": 0}}},
   {"data": {"values": [{"lab": "ν₂"}]}, "mark": {"type": "text"},
    "encoding": {"text": {"field": "lab"}, "x": {"datum": 1165, "type": "quantitative", "axis": null}, "y": {"datum": 18300000, "type": "quantitative", "axis": null}}}
  ],
  "resolve": {"axis": {"x": "independent", "y": "independent"}}}
]},
{"spacing": 30, "bounds": "flush", "vconcat": [
 {"width": 334, "height": 63, "data": {"name": "r1"},
  "layer": [
   {"mark": {"type": "line", "color": "#8b0000", "strokeWidth": 1},
    "encoding": {
     "x": {"field": "o", "type": "quantitative", "scale": {"domain": [-2, 2], "nice": false, "zero": false}, "axis": {"orient": "bottom", "values": [-2,-1.9,-1.8,-1.7,-1.6,-1.5,-1.4,-1.3,-1.2,-1.1,-1,-0.9,-0.8,-0.7,-0.6,-0.5,-0.4,-0.3,-0.2,-0.1,0,0.1,0.2,0.3,0.4,0.5,0.6,0.7,0.8,0.9,1,1.1,1.2,1.3,1.4,1.5,1.6,1.7,1.8,1.9,2], "tickSize": {"condition": {"test": "abs(datum.value - round(datum.value)) < 0.001", "value": -5}, "value": -2.5}, "labels": false, "title": null}},
     "y": {"field": "c", "type": "quantitative", "scale": {"domain": [-0.02, 0.09], "nice": false, "zero": false}, "axis": {"orient": "left", "labelPadding": 10, "values": [-0.02,-0.01,0,0.01,0.02,0.03,0.04,0.05,0.06,0.07,0.08], "tickSize": {"condition": {"test": "abs(round(datum.value*100)) % 2 === 0", "value": -5}, "value": -2.5}, "labelExpr": "abs(round(datum.value*100)) % 2 === 0 ? (datum.value < -0.001 ? '-' : '') + format(abs(datum.value), '.2f') : ''", "title": null}}}},
   {"mark": {"type": "line", "opacity": 0},
    "encoding": {
     "x": {"field": "o", "type": "quantitative", "scale": {"domain": [-2, 2], "nice": false, "zero": false}, "axis": {"orient": "top", "values": [-2,-1.9,-1.8,-1.7,-1.6,-1.5,-1.4,-1.3,-1.2,-1.1,-1,-0.9,-0.8,-0.7,-0.6,-0.5,-0.4,-0.3,-0.2,-0.1,0,0.1,0.2,0.3,0.4,0.5,0.6,0.7,0.8,0.9,1,1.1,1.2,1.3,1.4,1.5,1.6,1.7,1.8,1.9,2], "tickSize": {"condition": {"test": "abs(datum.value - round(datum.value)) < 0.001", "value": -5}, "value": -2.5}, "labels": false, "title": null}},
     "y": {"field": "c", "type": "quantitative", "scale": {"domain": [-0.02, 0.09], "nice": false, "zero": false}, "axis": {"orient": "right", "values": [-0.02,-0.01,0,0.01,0.02,0.03,0.04,0.05,0.06,0.07,0.08], "tickSize": {"condition": {"test": "abs(round(datum.value*100)) % 2 === 0", "value": -5}, "value": -2.5}, "labels": false, "title": null}}}},
   {"data": {"values": [{"lab": "ν₁ - ν₁ₐ"}]}, "mark": {"type": "text"},
    "encoding": {"text": {"field": "lab"}, "x": {"datum": 1.92, "type": "quantitative", "axis": null}, "y": {"datum": 0.082, "type": "quantitative", "axis": null}}}
  ],
  "resolve": {"axis": {"x": "independent", "y": "independent"}}},
 {"width": 334, "height": 63, "data": {"name": "r2"},
  "layer": [
   {"mark": {"type": "line", "color": "#8b0000", "strokeWidth": 1},
    "encoding": {
     "x": {"field": "o", "type": "quantitative", "scale": {"domain": [-2, 2], "nice": false, "zero": false}, "axis": {"orient": "bottom", "values": [-2,-1.9,-1.8,-1.7,-1.6,-1.5,-1.4,-1.3,-1.2,-1.1,-1,-0.9,-0.8,-0.7,-0.6,-0.5,-0.4,-0.3,-0.2,-0.1,0,0.1,0.2,0.3,0.4,0.5,0.6,0.7,0.8,0.9,1,1.1,1.2,1.3,1.4,1.5,1.6,1.7,1.8,1.9,2], "tickSize": {"condition": {"test": "abs(datum.value - round(datum.value)) < 0.001", "value": -5}, "value": -2.5}, "labels": false, "title": null}},
     "y": {"field": "c", "type": "quantitative", "scale": {"domain": [-0.02, 0.09], "nice": false, "zero": false}, "axis": {"orient": "left", "labelPadding": 10, "values": [-0.02,-0.01,0,0.01,0.02,0.03,0.04,0.05,0.06,0.07,0.08], "tickSize": {"condition": {"test": "abs(round(datum.value*100)) % 2 === 0", "value": -5}, "value": -2.5}, "labelExpr": "abs(round(datum.value*100)) % 2 === 0 ? (datum.value < -0.001 ? '-' : '') + format(abs(datum.value), '.2f') : ''", "title": "Cross-correlation Power", "titlePadding": 5}}}},
   {"mark": {"type": "line", "opacity": 0},
    "encoding": {
     "x": {"field": "o", "type": "quantitative", "scale": {"domain": [-2, 2], "nice": false, "zero": false}, "axis": {"orient": "top", "values": [-2,-1.9,-1.8,-1.7,-1.6,-1.5,-1.4,-1.3,-1.2,-1.1,-1,-0.9,-0.8,-0.7,-0.6,-0.5,-0.4,-0.3,-0.2,-0.1,0,0.1,0.2,0.3,0.4,0.5,0.6,0.7,0.8,0.9,1,1.1,1.2,1.3,1.4,1.5,1.6,1.7,1.8,1.9,2], "tickSize": {"condition": {"test": "abs(datum.value - round(datum.value)) < 0.001", "value": -5}, "value": -2.5}, "labels": false, "title": null}},
     "y": {"field": "c", "type": "quantitative", "scale": {"domain": [-0.02, 0.09], "nice": false, "zero": false}, "axis": {"orient": "right", "values": [-0.02,-0.01,0,0.01,0.02,0.03,0.04,0.05,0.06,0.07,0.08], "tickSize": {"condition": {"test": "abs(round(datum.value*100)) % 2 === 0", "value": -5}, "value": -2.5}, "labels": false, "title": null}}}},
   {"data": {"values": [{"lab": "ν₁ - ν₂"}]}, "mark": {"type": "text"},
    "encoding": {"text": {"field": "lab"}, "x": {"datum": 1.92, "type": "quantitative", "axis": null}, "y": {"datum": 0.082, "type": "quantitative", "axis": null}}}
  ],
  "resolve": {"axis": {"x": "independent", "y": "independent"}}},
 {"width": 334, "height": 63, "data": {"name": "r3"},
  "layer": [
   {"mark": {"type": "line", "color": "#8b0000", "strokeWidth": 1},
    "encoding": {
     "x": {"field": "o", "type": "quantitative", "scale": {"domain": [-2, 2], "nice": false, "zero": false}, "axis": {"orient": "bottom", "values": [-2,-1.9,-1.8,-1.7,-1.6,-1.5,-1.4,-1.3,-1.2,-1.1,-1,-0.9,-0.8,-0.7,-0.6,-0.5,-0.4,-0.3,-0.2,-0.1,0,0.1,0.2,0.3,0.4,0.5,0.6,0.7,0.8,0.9,1,1.1,1.2,1.3,1.4,1.5,1.6,1.7,1.8,1.9,2], "tickSize": {"condition": {"test": "abs(datum.value - round(datum.value)) < 0.001", "value": -5}, "value": -2.5}, "labelExpr": "abs(datum.value - round(datum.value)) < 0.001 ? (datum.value < -0.5 ? '-' : '') + format(abs(datum.value), 'd') : ''", "title": "Time Offset [sec]", "titlePadding": 1}},
     "y": {"field": "c", "type": "quantitative", "scale": {"domain": [-0.02, 0.09], "nice": false, "zero": false}, "axis": {"orient": "left", "labelPadding": 10, "values": [-0.02,-0.01,0,0.01,0.02,0.03,0.04,0.05,0.06,0.07,0.08], "tickSize": {"condition": {"test": "abs(round(datum.value*100)) % 2 === 0", "value": -5}, "value": -2.5}, "labelExpr": "abs(round(datum.value*100)) % 2 === 0 ? (datum.value < -0.001 ? '-' : '') + format(abs(datum.value), '.2f') : ''", "title": null}}}},
   {"mark": {"type": "line", "opacity": 0},
    "encoding": {
     "x": {"field": "o", "type": "quantitative", "scale": {"domain": [-2, 2], "nice": false, "zero": false}, "axis": {"orient": "top", "values": [-2,-1.9,-1.8,-1.7,-1.6,-1.5,-1.4,-1.3,-1.2,-1.1,-1,-0.9,-0.8,-0.7,-0.6,-0.5,-0.4,-0.3,-0.2,-0.1,0,0.1,0.2,0.3,0.4,0.5,0.6,0.7,0.8,0.9,1,1.1,1.2,1.3,1.4,1.5,1.6,1.7,1.8,1.9,2], "tickSize": {"condition": {"test": "abs(datum.value - round(datum.value)) < 0.001", "value": -5}, "value": -2.5}, "labels": false, "title": null}},
     "y": {"field": "c", "type": "quantitative", "scale": {"domain": [-0.02, 0.09], "nice": false, "zero": false}, "axis": {"orient": "right", "values": [-0.02,-0.01,0,0.01,0.02,0.03,0.04,0.05,0.06,0.07,0.08], "tickSize": {"condition": {"test": "abs(round(datum.value*100)) % 2 === 0", "value": -5}, "value": -2.5}, "labels": false, "title": null}}}},
   {"data": {"values": [{"lab": "ν₁ₐ- ν₂"}]}, "mark": {"type": "text"},
    "encoding": {"text": {"field": "lab"}, "x": {"datum": 1.92, "type": "quantitative", "axis": null}, "y": {"datum": 0.082, "type": "quantitative", "axis": null}}}
  ],
  "resolve": {"axis": {"x": "independent", "y": "independent"}}}
]}
]
}
